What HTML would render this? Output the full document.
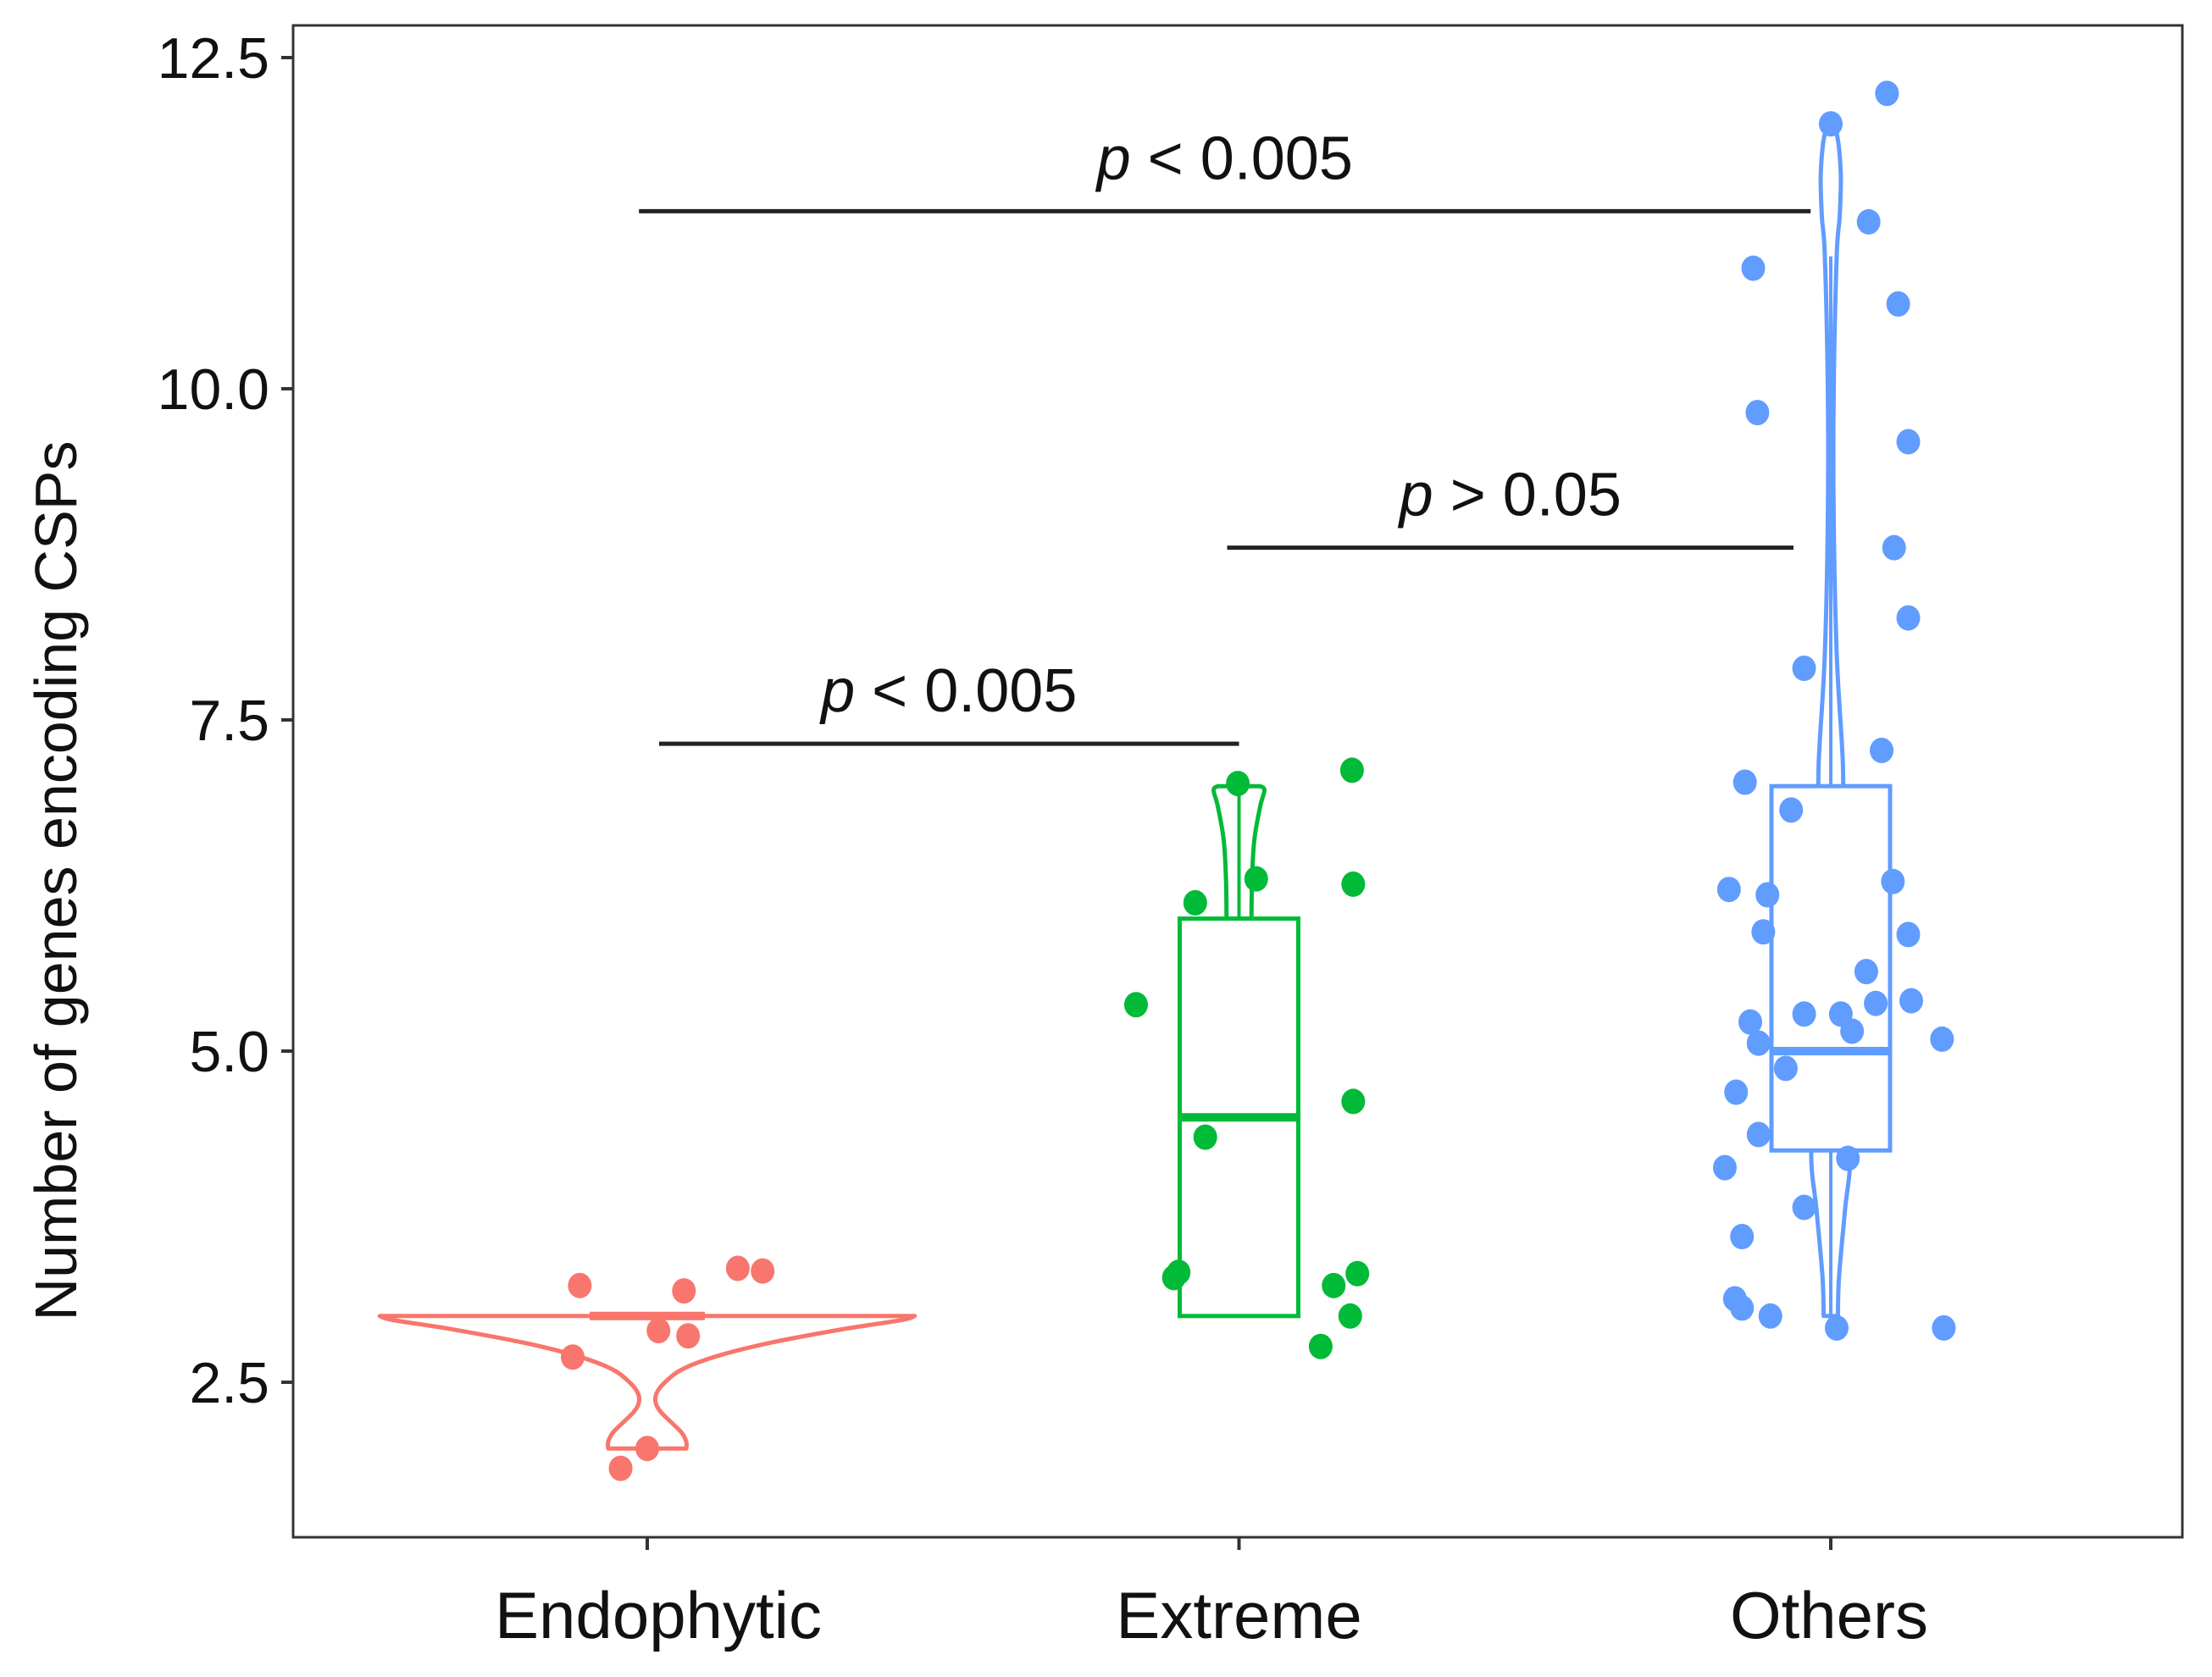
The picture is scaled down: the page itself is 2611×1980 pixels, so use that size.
<!DOCTYPE html>
<html><head><meta charset="utf-8"><style>
html,body{margin:0;padding:0;background:#fff;}
svg{display:block;font-family:"Liberation Sans",Arial,sans-serif;}
</style></head><body>
<svg id="chart" width="2611" height="1980" viewBox="0 0 2611 1980" xmlns="http://www.w3.org/2000/svg">
<rect x="346" y="30" width="2230" height="1785" fill="#fff" stroke="#333" stroke-width="3"/>
<g id="axes"></g>
<g id="marks"></g>
<text transform="translate(90,1040) rotate(-90)" text-anchor="middle" font-size="70" fill="#111">Number of genes encoding CSPs</text>
</svg>
<script>
const categories = ["Endophytic","Extreme","Others"];
const colors = ["#F8766D","#00BA38","#619CFF"];
const yTicks = [2.5,5.0,7.5,10.0,12.5];
const yTickLabels = ["2.5","5.0","7.5","10.0","12.5"];
const endoValues = [3.23,3.19,3.36,3.34,2.89,2.85,2.69,2.0,1.85];
const endoJitter = [-0.114,0.062,0.153,0.195,0.019,0.069,-0.126,0,-0.045];
const extValues = [7.02,7.12,6.3,6.12,6.26,5.35,4.62,4.35,3.33,3.29,3.32,3.23,3.0,2.77];
const extJitter = [-0.002,0.191,0.029,-0.074,0.193,-0.174,0.193,-0.057,-0.102,-0.110,0.200,0.160,0.188,0.138];
const othValues = [12.23,12.0,11.26,10.91,10.64,9.82,9.6,8.8,8.27,7.89,7.27,7.03,6.82,6.22,6.18,6.28,5.9,5.88,5.6,5.28,5.28,5.36,5.38,5.22,5.15,5.06,5.09,4.87,4.69,4.37,4.19,4.12,3.82,3.6,3.13,3.06,3.0,2.91,2.91];
const othJitter = [0.095,0,0.064,-0.131,0.114,-0.124,0.131,0.107,0.131,-0.045,0.086,-0.145,-0.067,-0.172,-0.107,0.105,-0.114,0.131,0.060,-0.045,0.017,0.076,0.136,-0.136,0.036,-0.122,0.188,-0.076,-0.160,-0.122,0.029,-0.179,-0.045,-0.150,-0.162,-0.150,-0.102,0.010,0.191];
const boxQ1 = [3.0,3.0,4.25];
const boxMedian = [3.0,4.5,5.0];
const boxQ3 = [3.0,6.0,7.0];
const whiskerHigh = [3.0,7.0,11.0];
const whiskerLow = [3.0,3.0,3.0];
const endoViolinV = [3.0,2.97,2.9,2.8,2.7,2.6,2.5,2.42,2.35,2.28,2.2,2.12,2.05,2.0];
const endoViolinW = [0.452,0.43,0.33,0.21,0.12,0.06,0.03,0.016,0.014,0.022,0.04,0.058,0.066,0.066];
const extViolinV = [7.0,6.97,6.85,6.6,6.3,6.0];
const extViolinW = [0.036,0.043,0.036,0.026,0.022,0.021];
const othViolinV = [12.0,11.85,11.6,11.3,11.0,10.0,9.0,8.0,7.3,7.0,6.0,5.0,4.25,3.8,3.3,3.0];
const othViolinW = [0.006,0.013,0.017,0.015,0.010,0.005,0.005,0.010,0.019,0.021,0.021,0.021,0.033,0.024,0.014,0.012];
const sigFrom = [0,1,0];
const sigTo = [2,2,1];
const sigY = [11.34,8.80,7.32];
const sigText = [" < 0.005"," > 0.05"," < 0.005"];

const NS="http://www.w3.org/2000/svg";
const SP=698.5;
function xScale(c){return 764 + c*SP;}
function xOff(c,u){return xScale(c)+u*SP;}
function yScale(v){return 1632-(v-2.5)*156.4;}
function mk(tag,attrs,parent){const e=document.createElementNS(NS,tag);for(const k in attrs)e.setAttribute(k,attrs[k]);parent.appendChild(e);return e;}
const axes=document.getElementById('axes'), marks=document.getElementById('marks');

yTicks.forEach((t,i)=>{
  const y=yScale(t);
  const l=mk('line',{x1:332,x2:346,y1:y,y2:y,stroke:'#333','stroke-width':4},axes);
  
  
  const tx=mk('text',{x:318,y:y+24,'text-anchor':'end','font-size':68,fill:'#111'},axes);
  tx.textContent=yTickLabels[i];
  
  
});
const labelShift=[13,0,-2];
categories.forEach((c,i)=>{
  const x=xScale(i);
  const l=mk('line',{x1:x,x2:x,y1:1815,y2:1830,stroke:'#333','stroke-width':4},axes);
  
  
  const tx=mk('text',{x:x+labelShift[i],y:1934,'text-anchor':'middle','font-size':78,fill:'#111'},axes);
  tx.textContent=c;
  
  
});

function smooth(pts){
  let d='M'+pts[0][0].toFixed(1)+','+pts[0][1].toFixed(1);
  for(let i=0;i<pts.length-1;i++){
    const p0=pts[Math.max(0,i-1)],p1=pts[i],p2=pts[i+1],p3=pts[Math.min(pts.length-1,i+2)];
    const c1=[p1[0]+(p2[0]-p0[0])/6,p1[1]+(p2[1]-p0[1])/6];
    const c2=[p2[0]-(p3[0]-p1[0])/6,p2[1]-(p3[1]-p1[1])/6];
    d+=' C'+c1[0].toFixed(1)+','+c1[1].toFixed(1)+' '+c2[0].toFixed(1)+','+c2[1].toFixed(1)+' '+p2[0].toFixed(1)+','+p2[1].toFixed(1);
  }
  return d;
}
function violinPath(c,vals,ws){
  const right=vals.map((v,i)=>[xOff(c,ws[i]),yScale(v)]);
  const left=vals.map((v,i)=>[xOff(c,-ws[i]),yScale(v)]).reverse();
  let d=smooth(right);
  d+=' L'+left[0][0].toFixed(1)+','+left[0][1].toFixed(1);
  d+=smooth(left).replace(/^M[^C]*/,' ');
  return d+' Z';
}
const violins=[[endoViolinV,endoViolinW],[extViolinV,extViolinW],[othViolinV,othViolinW]];
violins.forEach((vw,i)=>{
  const p=mk('path',{d:violinPath(i,vw[0],vw[1]),fill:'#fff',stroke:colors[i],'stroke-width':5,'stroke-linejoin':'round'},marks);
  
  
});
categories.forEach((c,i)=>{
  const x=xScale(i), hw=i===0?68:70;
  const wl=mk('line',{x1:x,x2:x,y1:yScale(whiskerHigh[i]),y2:yScale(boxQ3[i]),stroke:colors[i],'stroke-width':4},marks);
  
  
  const wl2=mk('line',{x1:x,x2:x,y1:yScale(whiskerLow[i]),y2:yScale(boxQ1[i]),stroke:colors[i],'stroke-width':4},marks);
  
  
  if(boxQ3[i]>boxQ1[i]){
    const r=mk('rect',{x:x-hw,y:yScale(boxQ3[i]),width:2*hw,height:yScale(boxQ1[i])-yScale(boxQ3[i]),fill:'#fff',stroke:colors[i],'stroke-width':5},marks);
    
    
  }
  const m=mk('line',{x1:x-hw,x2:x+hw,y1:yScale(boxMedian[i]),y2:yScale(boxMedian[i]),stroke:colors[i],'stroke-width':10},marks);
  
  
});
const pts=[[endoValues,endoJitter],[extValues,extJitter],[othValues,othJitter]];
pts.forEach((pv,i)=>{
  pv[0].forEach((v,j)=>{
    const d=mk('ellipse',{cx:xOff(i,pv[1][j]),cy:yScale(v),rx:14,ry:15,fill:colors[i]},marks);
    
    
  });
});
const sigL=[-0.014,-0.02,0.02];
const sigR=[-0.034,-0.063,0.0];
sigY.forEach((v,i)=>{
  const y=yScale(v);
  const x1=xOff(sigFrom[i],sigL[i]), x2=xOff(sigTo[i],sigR[i]);
  const l=mk('line',{x1:x1,x2:x2,y1:y,y2:y,stroke:'#222','stroke-width':5},marks);
  
  
  const t=mk('text',{x:(x1+x2)/2,y:y-38,'text-anchor':'middle','font-size':72,fill:'#111'},marks);
  const ts=mk('tspan',{'font-style':'italic'},t);ts.textContent='p';
  const ts2=mk('tspan',{},t);ts2.textContent=sigText[i];
  
  
});
</script>
</body></html>
